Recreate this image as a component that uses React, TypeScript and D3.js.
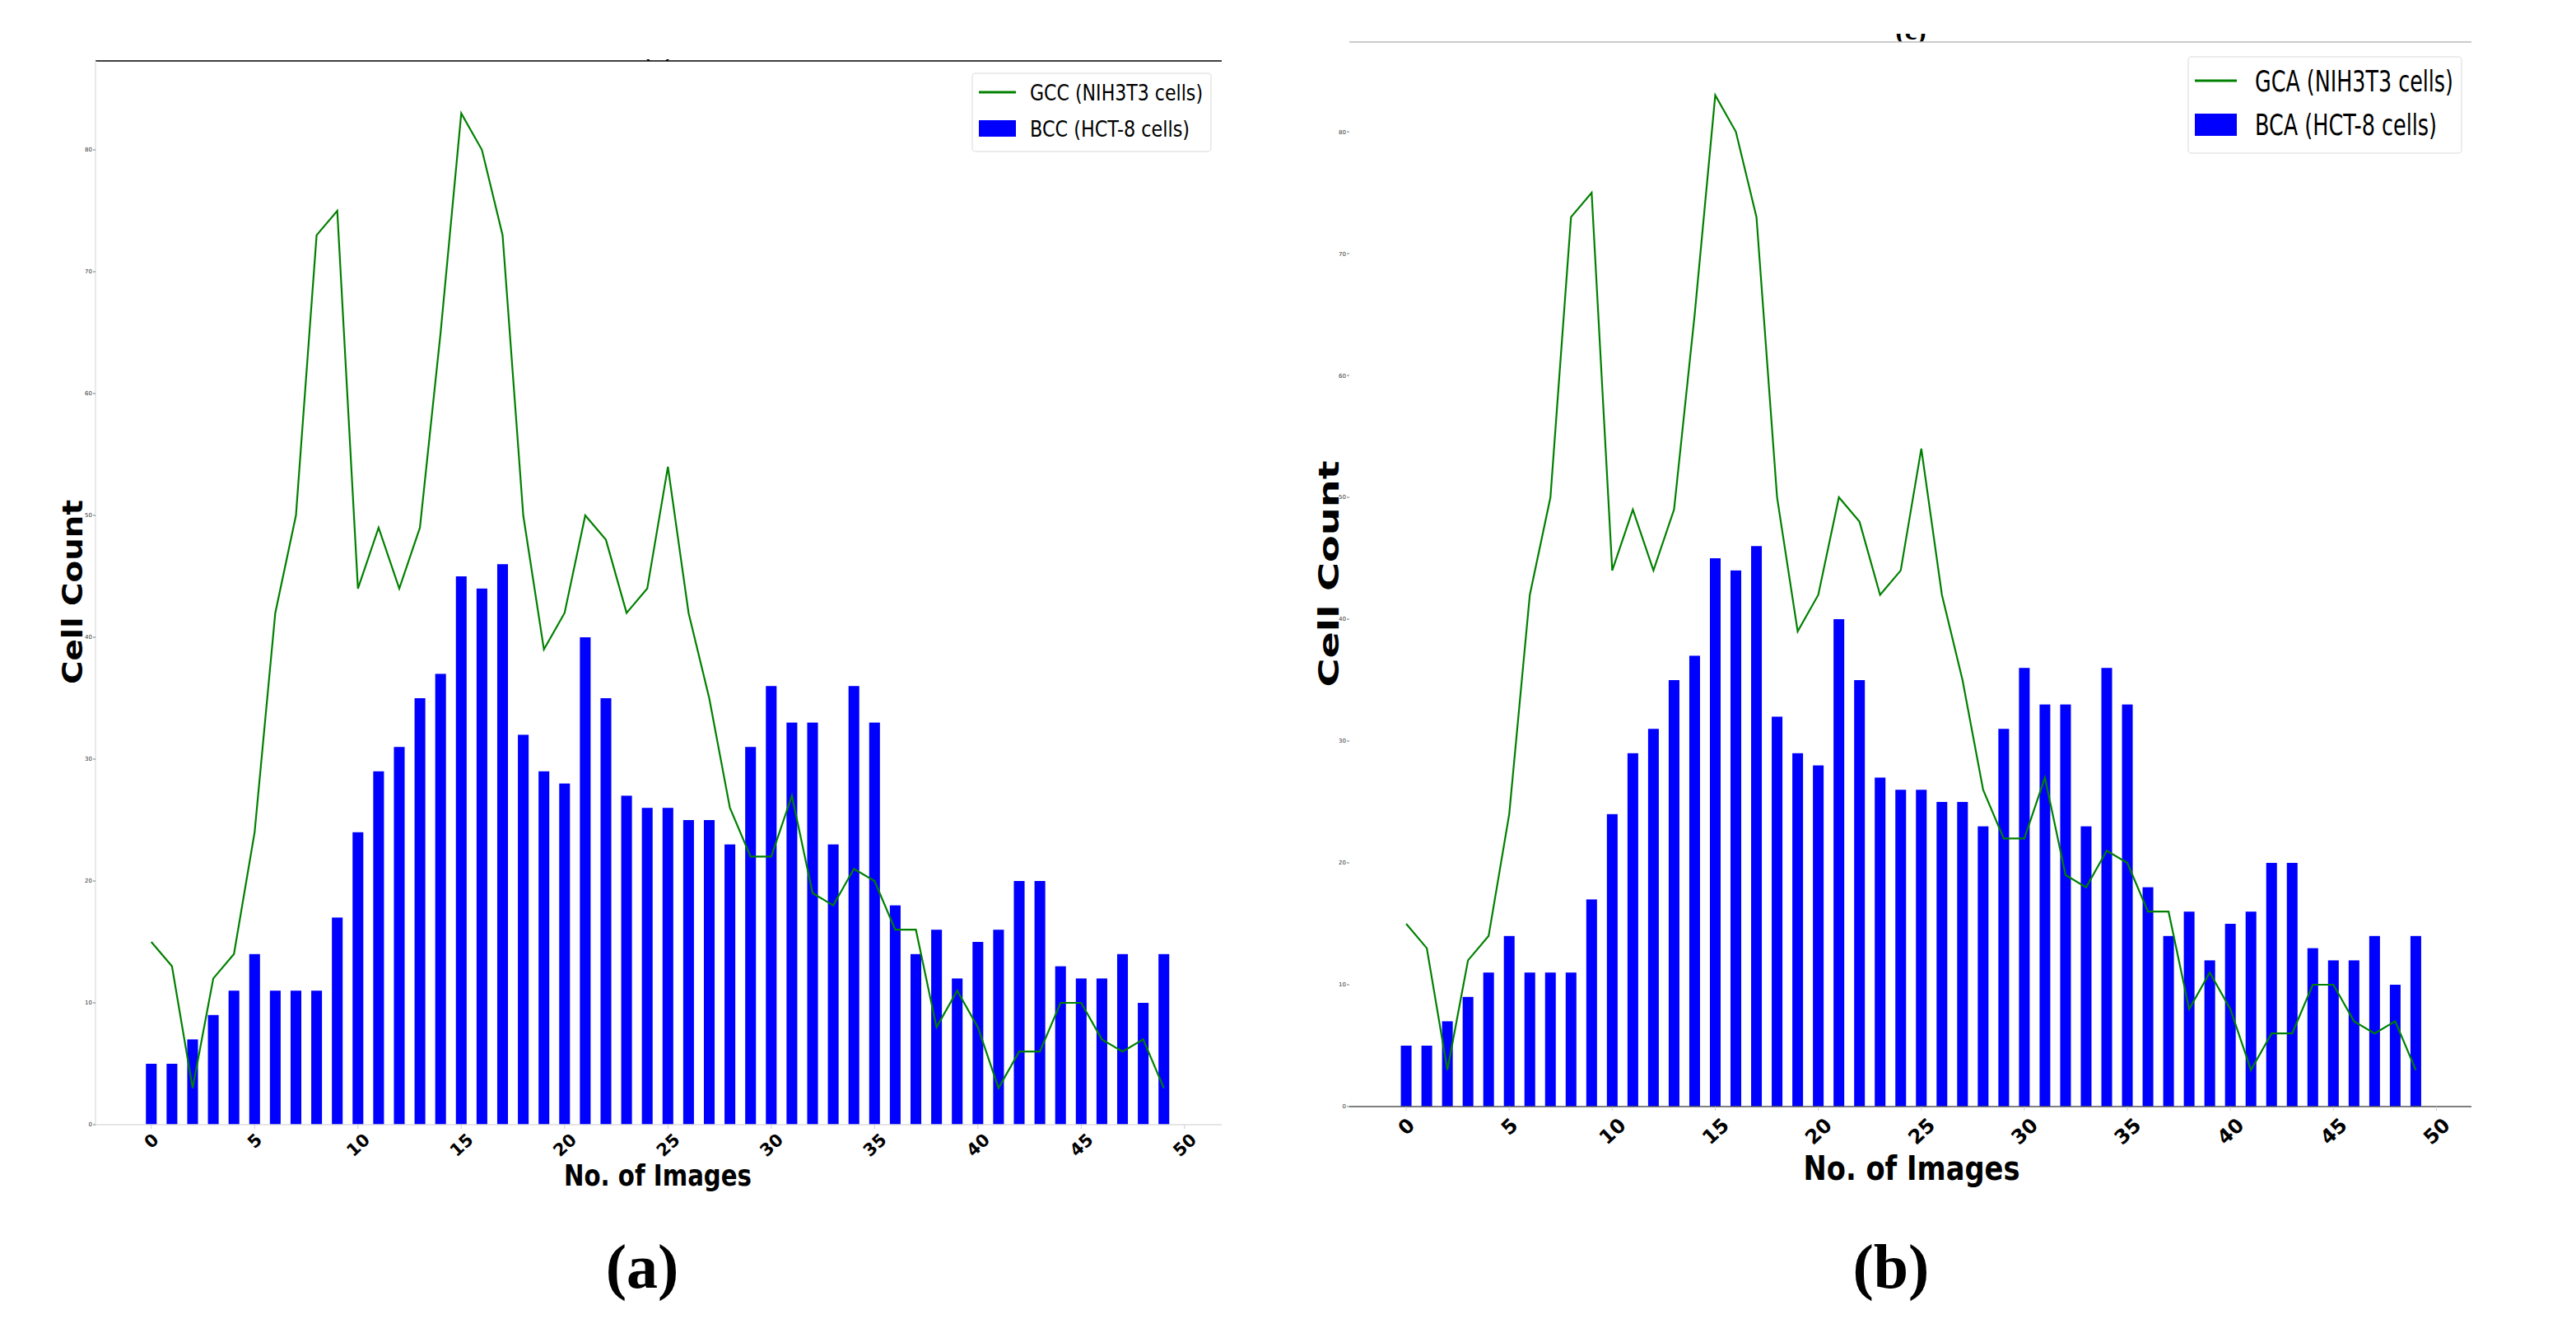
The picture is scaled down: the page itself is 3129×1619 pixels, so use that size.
import * as d3 from 'd3';

// values (both panels show the same counts)
const imageIndex = [
  0, 1, 2, 3, 4, 5, 6, 7, 8, 9, 10, 11, 12, 13, 14, 15, 16, 17, 18, 19, 20, 21, 22, 23, 24,
  25, 26, 27, 28, 29, 30, 31, 32, 33, 34, 35, 36, 37, 38, 39, 40, 41, 42, 43, 44, 45, 46, 47, 48, 49,
];
const greenCounts = [
  15, 13, 3, 12, 14, 24, 42, 50, 73, 75, 44, 49, 44, 49, 65, 83, 80, 73, 50, 39, 42, 50, 48, 42, 44,
  54, 42, 35, 26, 22, 22, 27, 19, 18, 21, 20, 16, 16, 8, 11, 8, 3, 6, 6, 10, 10, 7, 6, 7, 3,
];
const blueCounts = [
  5, 5, 7, 9, 11, 14, 11, 11, 11, 17, 24, 29, 31, 35, 37, 45, 44, 46, 32, 29, 28, 40, 35, 27, 26,
  26, 25, 25, 23, 31, 36, 33, 33, 23, 36, 33, 18, 14, 16, 12, 15, 16, 20, 20, 13, 12, 12, 14, 10, 14,
];
const xTicks = [0, 5, 10, 15, 20, 25, 30, 35, 40, 45, 50];
const yTicks = [0, 10, 20, 30, 40, 50, 60, 70, 80];
const lineLabels = ['GCC (NIH3T3 cells)', 'GCA (NIH3T3 cells)'];
const barLabels = ['BCC (HCT-8 cells)', 'BCA (HCT-8 cells)'];
const captions = ['(a)', '(b)'];

const GREEN = '#008000';
const BLUE = '#0000ff';

interface PanelProps {
  id: string;
  left: number;
  right: number;
  top: number;
  bottom: number;
  xDomain: [number, number];
  yMax: number;
  topSpine: string;
  leftSpine: string | null;
  bottomSpine: string;
  tickFont: number;
  tickPad: number;
  lineLabel: string;
  barLabel: string;
  legend: { x: number; y: number; w: number; h: number; sample: number; font: number; len1: number; len2: number; base1: number; base2: number; lineY: number; patchY: number; patchH: number; textX: number };
  yLabel: { x: number; y: number; font: number; len: number };
  xLabel: { x: number; y: number; font: number; len: number };
  caption: string;
  captionX: number;
  title: { text: string; x: number; y: number; font: number; clipY0: number; clipY1: number };
}

const Panel = (p: PanelProps) => {
  const x = d3.scaleLinear().domain(p.xDomain).range([p.left, p.right]);
  const y = d3.scaleLinear().domain([0, p.yMax]).range([p.bottom, p.top]);
  const barW = x(0.26) - x(-0.26);

  const line = d3.line<number>()
    .x((_, i) => x(imageIndex[i]))
    .y(d => y(d));

  const angle = 43;
  const rad = (angle * Math.PI) / 180;

  return (
    <g>
      <defs>
        <clipPath id={`title-${p.id}`}>
          <rect x={p.title.x - 60} y={p.title.clipY0} width={120} height={p.title.clipY1 - p.title.clipY0} />
        </clipPath>
      </defs>

      {/* cut-off title above the axes */}
      <text
        x={p.title.x}
        y={p.title.y}
        textAnchor="middle"
        fontFamily="Liberation Serif"
        fontWeight="bold"
        fontSize={p.title.font}
        clipPath={`url(#title-${p.id})`}
      >
        {p.title.text}
      </text>

      {/* bars */}
      {blueCounts.map((v, i) => (
        <rect
          key={i}
          x={x(imageIndex[i]) - barW / 2}
          y={y(v)}
          width={barW}
          height={y(0) - y(v)}
          fill={BLUE}
        />
      ))}

      {/* line */}
      <path d={line(greenCounts) || ''} fill="none" stroke={GREEN} strokeWidth={2.2} strokeLinejoin="miter" />

      {/* spines */}
      <line x1={p.left} x2={p.right} y1={p.top} y2={p.top} stroke={p.topSpine} strokeWidth={1.5} />
      <line x1={p.left} x2={p.right} y1={p.bottom} y2={p.bottom} stroke={p.bottomSpine} strokeWidth={1.5} />
      {p.leftSpine && (
        <line x1={p.left} x2={p.left} y1={p.top} y2={p.bottom} stroke={p.leftSpine} strokeWidth={1.5} />
      )}

      {/* y ticks (tiny) */}
      {yTicks.map(t => (
        <g key={t}>
          <line x1={p.left - 3} x2={p.left} y1={y(t)} y2={y(t)} stroke="#555" strokeWidth={0.8} />
          <text x={p.left - 4} y={y(t)} dy="0.35em" textAnchor="end" fontSize={7} fontFamily="DejaVu Sans" fill="#333">
            {t}
          </text>
        </g>
      ))}

      {/* x ticks */}
      {xTicks.map(t => {
        const label = String(t);
        const w = label.length * 0.696 * p.tickFont;
        const h = 0.73 * p.tickFont;
        const boxH = w * Math.sin(rad) + h * Math.cos(rad);
        const cy = p.bottom + p.tickPad + boxH / 2;
        return (
          <g key={t}>
            <line x1={x(t)} x2={x(t)} y1={p.bottom} y2={p.bottom + 5} stroke="#ccc" strokeWidth={1} />
            <text
              transform={`translate(${x(t)},${cy}) rotate(${-angle})`}
              textAnchor="middle"
              dy="0.36em"
              fontFamily="DejaVu Sans"
              fontWeight="bold"
              fontSize={p.tickFont}
              fill="#000"
            >
              {label}
            </text>
          </g>
        );
      })}

      {/* axis labels */}
      <text
        transform={`translate(${p.yLabel.x},${p.yLabel.y}) rotate(-90)`}
        textAnchor="middle"
        fontFamily="DejaVu Sans"
        fontWeight="bold"
        fontSize={p.yLabel.font}
        textLength={p.yLabel.len}
        lengthAdjust="spacingAndGlyphs"
      >
        Cell Count
      </text>
      <text
        x={p.xLabel.x}
        y={p.xLabel.y}
        textAnchor="middle"
        fontFamily="DejaVu Sans"
        fontWeight="bold"
        fontSize={p.xLabel.font}
        textLength={p.xLabel.len}
        lengthAdjust="spacingAndGlyphs"
      >
        No. of Images
      </text>

      {/* legend */}
      <rect
        x={p.legend.x}
        y={p.legend.y}
        width={p.legend.w}
        height={p.legend.h}
        rx={4}
        fill="#fff"
        stroke="#e6e6e6"
        strokeWidth={1.5}
      />
      <line
        x1={p.legend.x + 8}
        x2={p.legend.x + 8 + p.legend.sample}
        y1={p.legend.lineY}
        y2={p.legend.lineY}
        stroke={GREEN}
        strokeWidth={3}
      />
      <rect x={p.legend.x + 8} y={p.legend.patchY} width={p.legend.sample} height={p.legend.patchH} fill={BLUE} />
      <text
        x={p.legend.textX}
        y={p.legend.base1}
        fontFamily="DejaVu Sans"
        fontSize={p.legend.font}
        textLength={p.legend.len1}
        lengthAdjust="spacingAndGlyphs"
      >
        {p.lineLabel}
      </text>
      <text
        x={p.legend.textX}
        y={p.legend.base2}
        fontFamily="DejaVu Sans"
        fontSize={p.legend.font}
        textLength={p.legend.len2}
        lengthAdjust="spacingAndGlyphs"
      >
        {p.barLabel}
      </text>

      {/* sub-figure caption */}
      <text x={p.captionX} y={1564} textAnchor="middle" fontFamily="Liberation Serif" fontWeight="bold" fontSize={76}>
        {p.caption}
      </text>
    </g>
  );
};

export default function App() {
  return (
    <div style={{ position: 'absolute', left: 0, top: 0 }}>
      <svg width={3129} height={1619} style={{ display: 'block', background: '#fff' }}>
        <Panel
          id="a"
          left={116}
          right={1484}
          top={74}
          bottom={1366}
          xDomain={[-2.7, 51.8]}
          yMax={87.3}
          topSpine="#000"
          leftSpine="#e2e2e2"
          bottomSpine="#dddddd"
          tickFont={21}
          tickPad={9}
          lineLabel={lineLabels[0]}
          barLabel={barLabels[0]}
          legend={{ x: 1181, y: 89, w: 290, h: 95, sample: 45, font: 27, len1: 210, len2: 194, base1: 122, base2: 166, lineY: 112, patchY: 146, patchH: 20, textX: 1251 }}
          yLabel={{ x: 100, y: 719, font: 34, len: 224 }}
          xLabel={{ x: 799, y: 1440, font: 35, len: 228 }}
          caption={captions[0]}
          captionX={780}
          title={{ text: '(a)', x: 799, y: 70, font: 30, clipY0: 72, clipY1: 74 }}
        />
        <Panel
          id="b"
          left={1639}
          right={3002}
          top={51}
          bottom={1344}
          xDomain={[-2.76, 51.7]}
          yMax={87.37}
          topSpine="#bbbbbb"
          leftSpine={null}
          bottomSpine="#555555"
          tickFont={24}
          tickPad={12}
          lineLabel={lineLabels[1]}
          barLabel={barLabels[1]}
          legend={{ x: 2658, y: 69, w: 332, h: 117, sample: 51, font: 36, len1: 241, len2: 221, base1: 111, base2: 164, lineY: 98, patchY: 138, patchH: 27, textX: 2739 }}
          yLabel={{ x: 1626, y: 697, font: 34, len: 275 }}
          xLabel={{ x: 2322, y: 1433, font: 41, len: 263 }}
          caption={captions[1]}
          captionX={2297}
          title={{ text: '(c)', x: 2321, y: 48, font: 34, clipY0: 41, clipY1: 51 }}
        />
      </svg>
    </div>
  );
}
